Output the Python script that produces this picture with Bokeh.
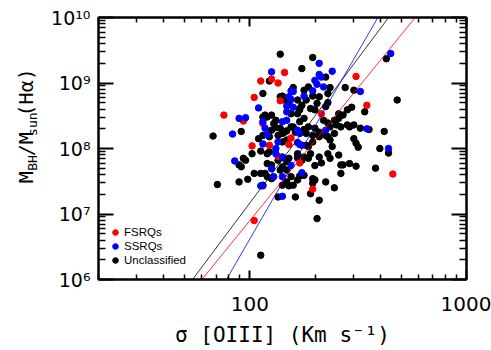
import numpy as np
from bokeh.plotting import figure
from bokeh.layouts import row
from bokeh.models import (LogAxis, FixedTicker, CustomJSTickFormatter, Legend,
                          LegendItem, Range1d, ColumnDataSource)
from bokeh.core.properties import value
from bokeh.embed import file_html
from bokeh.resources import INLINE

# ---- data: log10(sigma [OIII] km/s), log10(M_BH/M_sun) ----
fsrq_log_sigma = [1.88, 1.97, 2.02, 2.05, 2.10, 2.13, 2.16, 2.14, 2.01, 2.09, 2.06,
                  2.19, 2.18, 2.13, 2.23, 2.29, 2.02, 2.33, 2.49, 2.54, 2.66]
fsrq_log_mbh = [8.51, 8.42, 8.78, 9.03, 9.06, 9.00, 9.16, 8.73, 8.04, 8.05, 8.38,
                8.16, 8.06, 7.88, 7.78, 7.38, 6.90, 8.53, 9.10, 8.66, 7.61]

ssrq_log_sigma = [2.10, 2.04, 1.95, 1.98, 1.92, 1.93, 2.06, 2.07, 2.08, 2.06, 2.05,
                  2.06, 2.10, 2.11, 2.15, 2.15, 2.19, 2.20, 2.18, 2.19, 2.17, 2.17,
                  2.20, 2.25, 2.32, 2.32, 2.33, 2.38, 2.30, 2.31, 2.34, 2.29, 2.15,
                  2.17, 2.22, 2.13, 2.23, 2.12, 2.12, 2.15, 2.19, 2.24, 2.23, 2.22,
                  2.24, 2.35, 2.65, 2.51, 2.54, 2.64]
ssrq_log_mbh = [9.17, 8.62, 8.46, 8.47, 8.22, 7.81, 8.41, 8.31, 8.21, 8.07, 7.43,
                7.43, 7.69, 7.57, 7.57, 7.27, 8.88, 8.87, 8.79, 8.75, 8.65, 8.56,
                8.63, 8.80, 9.30, 9.13, 9.09, 9.18, 9.04, 8.98, 8.94, 8.88, 8.41,
                8.43, 8.28, 8.10, 8.06, 8.00, 7.92, 7.86, 7.74, 7.63, 8.23, 8.09,
                8.05, 8.28, 9.45, 8.87, 8.30, 8.00]

uncl_log_sigma = [2.14, 2.29, 2.24, 2.35, 2.63, 2.06, 2.09, 2.14, 2.15, 2.20, 2.25,
                  2.27, 2.29, 2.32, 2.36, 2.37, 2.44, 2.48, 2.36, 2.31, 2.24, 2.23,
                  2.16, 2.18, 2.22, 2.28, 2.30, 2.35, 2.68, 2.53, 2.47, 2.45, 2.43,
                  2.41, 2.41, 2.39, 2.42, 2.40, 2.45, 2.48, 2.51, 2.55, 2.62, 2.48,
                  2.49, 2.50, 2.60, 2.64, 2.46, 1.83, 1.85, 1.96, 1.97, 1.98, 1.95,
                  1.96, 1.99, 2.02, 2.05, 2.07, 2.08, 2.10, 2.05, 2.08, 2.01, 1.95,
                  2.06, 2.08, 2.10, 2.09, 2.09, 2.06, 2.07, 2.06, 2.08, 2.10, 2.12,
                  2.11, 2.12, 2.14, 2.16, 2.15, 2.17, 2.19, 2.20, 2.21, 2.23, 2.22,
                  2.23, 2.25, 2.27, 2.25, 2.26, 2.29, 2.30, 2.32, 2.32, 2.35, 2.36,
                  2.37, 2.38, 2.39, 2.37, 2.36, 2.34, 2.13, 2.15, 2.17, 2.18, 2.15,
                  2.14, 2.17, 2.19, 2.18, 2.15, 2.17, 2.20, 2.21, 2.22, 2.23, 2.25,
                  2.22, 2.22, 2.24, 2.25, 2.27, 2.27, 2.28, 2.29, 2.26, 2.30, 2.32,
                  2.33, 2.36, 2.37, 2.41, 2.42, 2.43, 2.46, 2.49, 2.42, 2.39, 2.35,
                  2.29, 2.30, 2.29, 2.28, 2.32, 2.31, 2.05, 2.58, 2.13, 2.04, 2.10,
                  2.13, 2.15, 2.17, 2.19, 2.26]
uncl_log_mbh = [9.44, 9.39, 9.22, 9.09, 9.37, 8.84, 9.03, 8.79, 8.80, 8.93, 8.89,
                8.94, 8.80, 8.79, 8.84, 8.93, 8.93, 8.89, 8.70, 8.69, 8.66, 8.61,
                8.74, 8.69, 8.74, 8.61, 8.59, 8.64, 8.74, 8.56, 8.63, 8.59, 8.51,
                8.53, 8.46, 8.43, 8.33, 8.36, 8.36, 8.36, 8.31, 8.29, 8.26, 8.15,
                8.08, 8.02, 8.00, 7.93, 8.33, 8.19, 7.45, 8.26, 7.85, 7.82, 7.75,
                7.72, 7.53, 7.62, 7.62, 7.62, 7.77, 7.75, 7.96, 7.92, 7.92, 7.49,
                7.44, 7.57, 7.54, 7.95, 8.18, 8.20, 8.51, 8.48, 8.48, 8.51, 8.43,
                8.38, 8.32, 8.31, 8.25, 8.23, 8.27, 8.33, 8.33, 8.25, 8.41, 8.53,
                8.59, 8.46, 8.33, 8.29, 8.23, 8.20, 8.31, 8.25, 8.18, 8.20, 8.18,
                8.13, 8.03, 8.23, 8.33, 8.39, 8.43, 7.82, 7.87, 7.80, 7.85, 7.72,
                7.67, 7.67, 7.57, 7.43, 7.44, 7.49, 7.44, 7.26, 7.52, 7.58, 7.59,
                7.92, 7.86, 7.82, 7.87, 7.85, 8.03, 7.92, 8.10, 8.05, 7.74, 7.87,
                7.78, 7.92, 7.85, 7.90, 7.75, 7.75, 7.77, 7.73, 7.62, 7.40, 7.49,
                7.54, 7.52, 7.47, 7.31, 7.21, 6.93, 6.37, 7.70, 7.26, 8.15, 8.28,
                8.20, 8.10, 8.13, 8.53, 8.74]

# fitted relations: log M = intercept + slope * log sigma
fit_colors = ["black", "red", "blue"]
fit_slopes = [4.42, 4.06, 5.72]
fit_intercepts = [-1.67, -1.22, -4.82]

x_major = [100, 1000]
x_minor = [20, 30, 40, 50, 60, 70, 80, 90, 200, 300, 400, 500, 600, 700, 800, 900]
y_major = [1e6, 1e7, 1e8, 1e9, 1e10]
y_minor = [k * 10.0 ** n for n in range(6, 10) for k in range(2, 10)]

# y-axis title pieces
ytitle_texts = ["M", "BH", "/M", "sun", "(H\u03b1)"]

MONO = "DejaVu Sans Mono"
NUMF = "DejaVu Sans"

TW = 42  # width of the side strip carrying the vertical axis title

p = figure(width=491 - TW, height=350, x_axis_type="log", y_axis_type="log",
           x_range=Range1d(20, 1000), y_range=Range1d(1e6, 1e10),
           output_backend="svg", toolbar_location=None,
           min_border_left=98 - TW, min_border_right=25, min_border_top=17,
           min_border_bottom=71)
p.grid.visible = False
p.outline_line_color = "black"
p.outline_line_width = 2
p.background_fill_color = "white"
p.border_fill_color = "white"

sup_code = """
const sup = {"0":"\u2070","1":"\u00b9","2":"\u00b2","3":"\u00b3","4":"\u2074","5":"\u2075","6":"\u2076","7":"\u2077","8":"\u2078","9":"\u2079","-":"\u207b"};
const e = Math.round(Math.log10(tick));
return "10" + String(e).split("").map(c => sup[c]).join("");
"""

def style_axis(ax, major_len, minor_len):
    ax.axis_line_width = 2
    ax.axis_line_color = "black"
    ax.major_tick_in = major_len
    ax.major_tick_out = 0
    ax.minor_tick_in = minor_len
    ax.minor_tick_out = 0
    ax.major_tick_line_width = 2
    ax.minor_tick_line_width = 1.5
    ax.major_tick_line_color = "black"
    ax.minor_tick_line_color = "black"

xa = p.xaxis[0]
xa.ticker = FixedTicker(ticks=x_major, minor_ticks=x_minor)
xa.formatter = CustomJSTickFormatter(code="return String(Math.round(tick));")
style_axis(xa, 9, 5)
xa.major_label_text_font = NUMF
xa.major_label_text_font_size = "20px"
xa.major_label_text_color = "black"
xa.major_label_standoff = 17
xa.axis_label = "\u03c3 [OIII] (Km s\u207b\u00b9)"
xa.axis_label_text_font = MONO
xa.axis_label_text_font_size = "21px"
xa.axis_label_text_font_style = "normal"
xa.axis_label_text_color = "black"
xa.axis_label_standoff = 9

ya = p.yaxis[0]
ya.ticker = FixedTicker(ticks=y_major, minor_ticks=y_minor)
ya.formatter = CustomJSTickFormatter(code=sup_code)
style_axis(ya, 15, 7)
ya.major_label_text_font = NUMF
ya.major_label_text_font_size = "19px"
ya.major_label_text_color = "black"
ya.major_label_standoff = 8

top = LogAxis(ticker=FixedTicker(ticks=x_major, minor_ticks=x_minor),
              formatter=CustomJSTickFormatter(code="return '';"),
              major_label_text_font_size="0px", major_label_standoff=0)
style_axis(top, 9, 5)
p.add_layout(top, "above")
right = LogAxis(ticker=FixedTicker(ticks=y_major, minor_ticks=y_minor),
                formatter=CustomJSTickFormatter(code="return '';"),
                major_label_text_font_size="0px", major_label_standoff=0)
style_axis(right, 15, 7)
p.add_layout(right, "right")

src_u = ColumnDataSource(dict(x=10 ** np.array(uncl_log_sigma), y=10 ** np.array(uncl_log_mbh)))
src_f = ColumnDataSource(dict(x=10 ** np.array(fsrq_log_sigma), y=10 ** np.array(fsrq_log_mbh)))
src_s = ColumnDataSource(dict(x=10 ** np.array(ssrq_log_sigma), y=10 ** np.array(ssrq_log_mbh)))
r_u = p.scatter("x", "y", source=src_u, size=6.5, color="black")
r_f = p.scatter("x", "y", source=src_f, size=6.5, color="red")
r_s = p.scatter("x", "y", source=src_s, size=6.5, color="blue")

xl = np.array([20.0, 1000.0])
for c, b, a in zip(fit_colors, fit_slopes, fit_intercepts):
    p.line(xl, 10 ** (a + b * np.log10(xl)), line_color=c, line_width=0.8)

legend = Legend(items=[LegendItem(label="FSRQs", renderers=[r_f]),
                       LegendItem(label="SSRQs", renderers=[r_s]),
                       LegendItem(label="Unclassified", renderers=[r_u])],
                location=(10, 12), padding=0, margin=0, spacing=-3,
                glyph_width=14, glyph_height=14, label_standoff=2,
                label_height=12, label_text_line_height=1.0,
                label_text_font="Liberation Sans", label_text_font_size="11.5px",
                label_text_color="black", border_line_color=None,
                background_fill_alpha=0)
p.add_layout(legend, "center")

# side strip with the rotated y-axis title (pixel coordinates of the strip)
t = figure(width=TW, height=350, x_range=Range1d(0, TW), y_range=Range1d(0, 350),
           x_axis_type=None, y_axis_type=None, output_backend="svg",
           toolbar_location=None, min_border=0)
t.grid.visible = False
t.outline_line_color = None
t.background_fill_color = "white"
t.border_fill_color = "white"
t_src = ColumnDataSource(dict(x=[25.7, 31.7, 25.7, 31.7, 25.7],
                              y=[136.7, 155.7, 180.8, 207.5, 250.0],
                              text=ytitle_texts,
                              size=["20px", "13px", "20px", "13px", "20px"]))
t.text("x", "y", text="text", source=t_src, angle=np.pi / 2,
       text_align="center", text_baseline="middle", text_font=value(MONO),
       text_font_size="size", text_color="black")

layout = row(t, p)
open("out.html", "w").write(file_html(layout, INLINE))
